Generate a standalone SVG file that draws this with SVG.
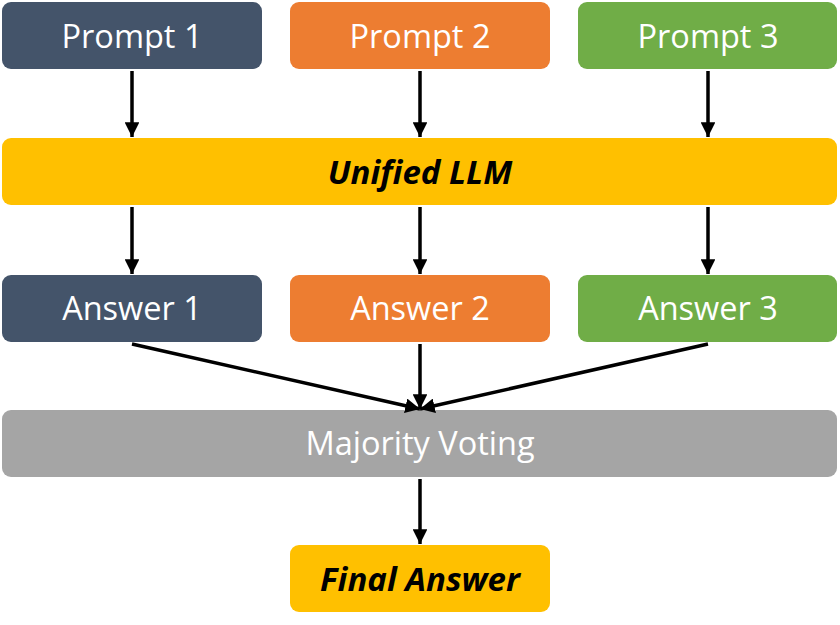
<svg xmlns="http://www.w3.org/2000/svg" width="840" height="625" viewBox="0 0 840 625">
<style>
.box{stroke:none}
.t{font-family:"Open Sans","Noto Sans",sans-serif;font-size:32.5px;fill:#fff;text-anchor:middle;dominant-baseline:central}
.tb{font-family:"Open Sans","Noto Sans",sans-serif;font-size:33px;fill:#000;font-weight:bold;font-style:italic;text-anchor:middle;dominant-baseline:central}
.c{stroke:#000;stroke-width:3.5;fill:none;marker-end:url(#ah)}
</style>
<defs>
<marker id="ah" viewBox="0 0 10 10" refX="10" refY="5" markerWidth="4.2" markerHeight="4.2" orient="auto" markerUnits="strokeWidth">
<path d="M0,0 L10,5 L0,10 z" fill="#000"/>
</marker>
</defs>
<g id="prompt1"><rect class="box" x="2" y="2" width="260" height="67" rx="9" fill="#44546A"/><text class="t" x="132" y="35">Prompt 1</text></g>
<g id="prompt2"><rect class="box" x="290" y="2" width="260" height="67" rx="9" fill="#ED7D31"/><text class="t" x="420" y="35">Prompt 2</text></g>
<g id="prompt3"><rect class="box" x="578" y="2" width="259" height="67" rx="9" fill="#70AD47"/><text class="t" x="708" y="35">Prompt 3</text></g>
<g id="llm"><rect class="box" x="2" y="138" width="835" height="67" rx="9" fill="#FFC000"/><text class="tb" x="420" y="171">Unified LLM</text></g>
<g id="answer1"><rect class="box" x="2" y="275" width="260" height="67" rx="9" fill="#44546A"/><text class="t" x="132" y="307">Answer 1</text></g>
<g id="answer2"><rect class="box" x="290" y="275" width="260" height="67" rx="9" fill="#ED7D31"/><text class="t" x="420" y="307">Answer 2</text></g>
<g id="answer3"><rect class="box" x="578" y="275" width="259" height="67" rx="9" fill="#70AD47"/><text class="t" x="708" y="307">Answer 3</text></g>
<g id="voting"><rect class="box" x="2" y="410" width="835" height="67" rx="9" fill="#A5A5A5"/><text class="t" x="420" y="442">Majority Voting</text></g>
<g id="final"><rect class="box" x="290" y="545" width="260" height="67" rx="9" fill="#FFC000"/><text class="tb" x="420" y="578">Final Answer</text></g>
<g id="connectors">
<line class="c" x1="132" y1="71" x2="132" y2="137"/>
<line class="c" x1="420" y1="71" x2="420" y2="137"/>
<line class="c" x1="708" y1="71" x2="708" y2="137"/>
<line class="c" x1="132" y1="207" x2="132" y2="274"/>
<line class="c" x1="420" y1="207" x2="420" y2="274"/>
<line class="c" x1="708" y1="207" x2="708" y2="274"/>
<line class="c" x1="132" y1="344" x2="420" y2="409"/>
<line class="c" x1="420" y1="344" x2="420" y2="409"/>
<line class="c" x1="708" y1="344" x2="420" y2="409"/>
<line class="c" x1="420" y1="479" x2="420" y2="544"/>
</g>
</svg>
